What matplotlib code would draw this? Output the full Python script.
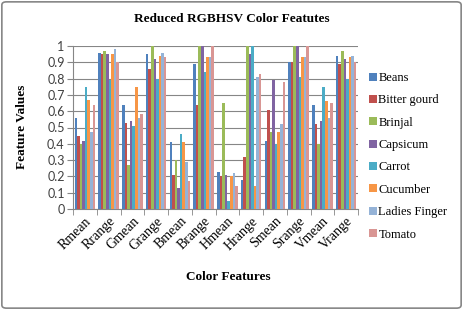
import numpy as np
import matplotlib.pyplot as plt
from matplotlib.patches import FancyBboxPatch

features = ["Rmean", "Rrange", "Gmean", "Grange", "Bmean", "Brange",
            "Hmean", "Hrange", "Smean", "Srange", "Vmean", "Vrange"]
vegetables = ["Beans", "Bitter gourd", "Brinjal", "Capsicum",
              "Carrot", "Cucumber", "Ladies Finger", "Tomato"]

beans = [0.56, 0.96, 0.64, 0.95, 0.41, 0.89, 0.23, 0.18, 0.42, 0.90, 0.64, 0.94]
bitter_gourd = [0.45, 0.95, 0.53, 0.86, 0.21, 0.64, 0.20, 0.32, 0.61, 0.90, 0.52, 0.89]
brinjal = [0.40, 0.97, 0.27, 1.00, 0.30, 1.00, 0.65, 1.00, 0.47, 1.00, 0.40, 0.97]
capsicum = [0.42, 0.95, 0.54, 0.92, 0.13, 1.00, 0.21, 0.95, 0.79, 1.00, 0.54, 0.92]
carrot = [0.75, 0.79, 0.51, 0.80, 0.46, 0.84, 0.05, 1.00, 0.40, 0.81, 0.75, 0.80]
cucumber = [0.67, 0.95, 0.75, 0.94, 0.41, 0.93, 0.20, 0.14, 0.47, 0.93, 0.66, 0.93]
ladies_finger = [0.47, 0.98, 0.56, 0.96, 0.29, 0.93, 0.22, 0.81, 0.52, 0.93, 0.56, 0.94]
tomato = [0.64, 0.90, 0.58, 0.93, 0.17, 1.00, 0.14, 0.83, 0.78, 1.00, 0.65, 0.90]

series = [beans, bitter_gourd, brinjal, capsicum, carrot, cucumber, ladies_finger, tomato]
colors = ["#4F81BD", "#C0504D", "#9BBB59", "#8064A2",
          "#4BACC6", "#F79646", "#95B3D7", "#D99694"]

serif = "Liberation Serif"

fig = plt.figure(figsize=(4.63, 3.10), dpi=100)
fig.patches.append(FancyBboxPatch((0.004, 0.006), 0.992, 0.988,
                                  boxstyle="round,pad=0,rounding_size=0.01",
                                  transform=fig.transFigure, fill=False,
                                  edgecolor="#868686", linewidth=1.2))

ax = fig.add_axes([73 / 463, 1 - 209 / 310, 285 / 463, 163 / 310])

x = np.arange(len(features))
group_w = 0.87
bar_w = group_w / len(series)
for i, (vals, name, c) in enumerate(zip(series, vegetables, colors)):
    offs = -group_w / 2 + bar_w * (i + 0.5)
    ax.bar(x + offs, vals, width=bar_w, color=c, label=name, zorder=3, linewidth=0)

ax.set_xlim(-0.5, len(features) - 0.5)
ax.set_ylim(0, 1)
ax.set_yticks(np.arange(0, 1.01, 0.1))
ax.set_yticklabels(["0", "0.1", "0.2", "0.3", "0.4", "0.5", "0.6", "0.7", "0.8", "0.9", "1"],
                   fontsize=9, color="#404040", family="Lato")
ax.grid(axis="y", color="#868686", linewidth=0.8, zorder=0)

ax.set_xticks(x)
ax.set_xticklabels(features, rotation=45, ha="right", rotation_mode="anchor",
                   fontsize=10, family=serif)
ax.set_xticks(np.arange(-0.5, len(features), 1), minor=True)
ax.tick_params(axis="x", which="major", length=0, pad=4)
ax.tick_params(axis="x", which="minor", length=4, color="#868686")
ax.tick_params(axis="y", length=4, color="#868686", pad=2)

for side in ["top", "right"]:
    ax.spines[side].set_visible(False)
for side in ["left", "bottom"]:
    ax.spines[side].set_color("#868686")

fig.text(232 / 463, 1 - 19 / 310, "Reduced RGBHSV Color Featutes", ha="center", va="center",
         fontsize=9.5, fontweight="bold", family=serif)
fig.text(22 / 463, 1 - 127 / 310, "Feature Values", ha="center", va="center", rotation=90,
         fontsize=9.5, fontweight="bold", family=serif)
fig.text(228 / 463, 1 - 277 / 310, "Color Features", ha="center", va="center",
         fontsize=9.5, fontweight="bold", family=serif)

fig.legend(loc="upper left", bbox_to_anchor=(364 / 463, 1 - 67 / 310), frameon=False,
           prop={"family": serif, "size": 9}, handlelength=0.6, handleheight=0.6,
           handletextpad=0.15, labelspacing=0.83, borderaxespad=0)

fig.savefig("out.png", dpi=100)
